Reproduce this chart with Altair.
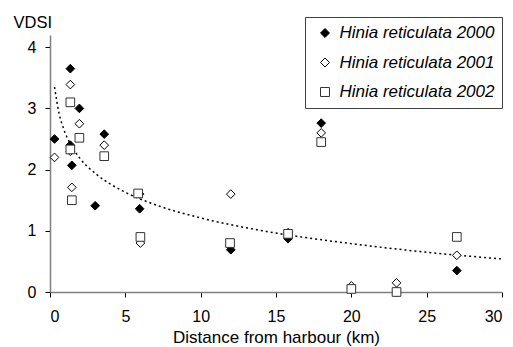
import altair as alt
import pandas as pd

series_names = ["Hinia reticulata 2000", "Hinia reticulata 2001", "Hinia reticulata 2002"]

x_2000 = [0.3, 1.35, 1.95, 1.35, 1.45, 3.6, 3.0, 5.95, 12.0, 15.8, 20.0, 23.0, 27.0, 18.0]
y_2000 = [2.5, 3.65, 3.0, 2.4, 2.07, 2.58, 1.41, 1.36, 0.69, 0.87, 0.05, 0.0, 0.35, 2.76]

x_2001 = [0.3, 1.35, 1.95, 3.6, 1.35, 1.45, 5.95, 6.0, 12.0, 15.8, 20.0, 23.0, 27.0, 18.0]
y_2001 = [2.2, 3.39, 2.75, 2.4, 2.3, 1.71, 1.6, 0.8, 1.6, 0.97, 0.1, 0.15, 0.6, 2.6]

x_2002 = [1.35, 1.95, 1.35, 3.6, 1.45, 5.85, 6.0, 11.95, 15.8, 20.0, 23.0, 27.0, 18.0]
y_2002 = [3.1, 2.52, 2.33, 2.22, 1.5, 1.61, 0.9, 0.8, 0.95, 0.05, 0.0, 0.9, 2.45]

# dotted trend line
trend_x = [0.3, 0.6, 0.9, 1.4, 2.0, 3.1, 5.0, 7.3, 10.0, 13.9, 20.0, 25.0, 30.0]
trend_y = [3.35, 2.92, 2.67, 2.40, 2.18, 1.92, 1.63, 1.40, 1.21, 1.01, 0.79, 0.65, 0.54]

x_ticks = [0, 5, 10, 15, 20, 25, 30]
y_ticks = [0, 1, 2, 3, 4]

rows = []
for name, xs, ys in zip(series_names, [x_2000, x_2001, x_2002], [y_2000, y_2001, y_2002]):
    for a, b in zip(xs, ys):
        rows.append({"series": name, "x": a, "y": b})
df = pd.DataFrame(rows)
trend_df = pd.DataFrame({"x": trend_x, "y": trend_y})

FONT = "Liberation Sans"

xenc = alt.X("x:Q", scale=alt.Scale(domain=[0, 30], nice=False, zero=False),
             axis=alt.Axis(values=x_ticks, title="Distance from harbour (km)", grid=False,
                           labelFontSize=16, titleFontSize=17, labelBaseline="alphabetic",
                           labelPadding=24, titleBaseline="alphabetic", titleY=50,
                           titleFontWeight="normal"))
yenc = alt.Y("y:Q", scale=alt.Scale(domain=[0, 4.2], nice=False),
             axis=alt.Axis(values=y_ticks, title="VDSI", grid=False, labelFontSize=16,
                           labelPadding=9, titleAngle=0, titleAlign="left",
                           titleBaseline="alphabetic", titleX=-37, titleY=-8,
                           titleFontSize=16.5, titleFontWeight="normal"))

trend = alt.Chart(trend_df).mark_line(
    color="black", strokeDash=[2, 3], strokeWidth=1.5, interpolate="monotone"
).encode(x=xenc, y=yenc)

legend = alt.Legend(title=None, orient="none", legendX=255, legendY=-18, padding=7.5,
                    strokeColor="#404040", fillColor="white", labelFont=FONT,
                    labelFontSize=17, labelFontStyle="italic", rowPadding=11.5,
                    symbolOffset=4, labelOffset=6, symbolSize=80, symbolStrokeWidth=1,
                    labelLimit=400, labelExpr="datum.label + '  '")

pts = alt.Chart(df).mark_point(filled=True, size=75, opacity=1, strokeWidth=1).encode(
    x=xenc, y=yenc,
    shape=alt.Shape("series:N", scale=alt.Scale(domain=series_names,
                                                range=["diamond", "diamond", "square"]), legend=legend),
    fill=alt.Fill("series:N", scale=alt.Scale(domain=series_names,
                                              range=["black", "white", "white"]), legend=legend),
    stroke=alt.Stroke("series:N", scale=alt.Scale(domain=series_names,
                                                  range=["black", "black", "#333333"]), legend=legend),
)

chart = alt.layer(trend, pts).properties(
    width=452, height=257,
    autosize=alt.AutoSizeParams(type="none"),
    padding={"left": 50, "top": 35, "right": 11, "bottom": 55},
    background="white",
).configure_view(stroke=None).configure_axis(
    labelFont=FONT, titleFont=FONT, labelColor="black", titleColor="black",
    domainColor="#808080", domainWidth=1.5, tickColor="black", tickSize=5, tickWidth=1,
)

chart.save("out.html", embed_options={"renderer": "svg", "actions": False})
